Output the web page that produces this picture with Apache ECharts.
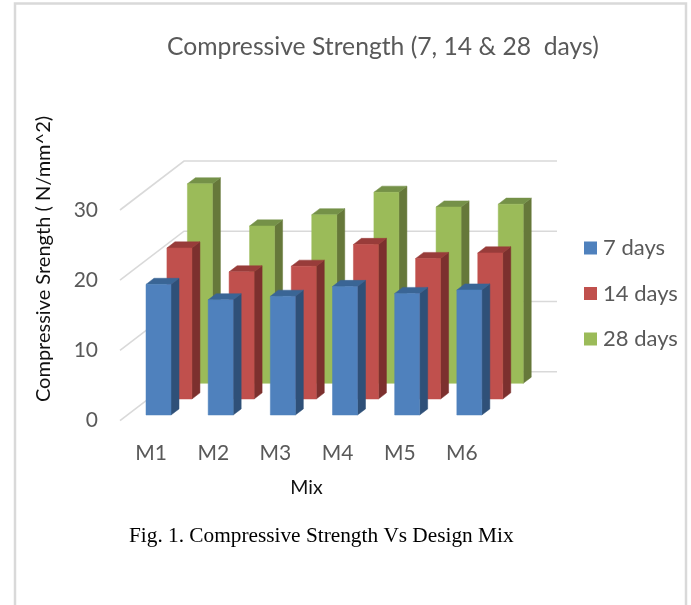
<!DOCTYPE html>
<html>
<head>
<meta charset="utf-8">
<style>html,body{margin:0;padding:0;background:#fff}#chart{width:691px;height:605px}</style>
<script src="https://cdn.jsdelivr.net/npm/echarts@6/dist/echarts.min.js"></script>
</head>
<body>
<div id="chart"></div>
<script>
const mixes = ['M1', 'M2', 'M3', 'M4', 'M5', 'M6'];
const days7 = [18.6, 16.4, 16.9, 18.3, 17.3, 17.8];
const days14 = [21.5, 18.1, 18.9, 22.0, 20.0, 20.8];
const days28 = [28.4, 22.4, 24.0, 27.2, 25.1, 25.5];
const yTicks = [0, 10, 20, 30];

// fake 3d: how far the back wall sits from the front plane, in pixels
const DEPTH_X = 64;
const DEPTH_Y = -49;
const BAR_W = 25;
const BAR_DEPTH = 0.125;

const textColor = '#595959';
const fontName = 'Lato';

function poly(points, fill) {
  return { type: 'polygon', shape: { points: points }, style: { fill: fill, stroke: fill, lineWidth: 0.5 } };
}

function barRenderer(depth, front, top, side) {
  return function (params, api) {
    const base = api.coord([api.value(0), 0]);
    const head = api.coord([api.value(0), api.value(1)]);
    const x0 = base[0] + DEPTH_X * depth - BAR_W / 2;
    const x1 = x0 + BAR_W;
    const y0 = base[1] + DEPTH_Y * depth;
    const y1 = head[1] + DEPTH_Y * depth;
    const dx = DEPTH_X * BAR_DEPTH;
    const dy = DEPTH_Y * BAR_DEPTH;
    return {
      type: 'group',
      children: [
        poly([[x1, y1], [x1 + dx, y1 + dy], [x1 + dx, y0 + dy], [x1, y0]], side),
        poly([[x0, y1], [x0 + dx, y1 + dy], [x1 + dx, y1 + dy], [x1, y1]], top),
        poly([[x0, y1], [x1, y1], [x1, y0], [x0, y0]], front)
      ]
    };
  };
}

function wallRenderer(params, api) {
  const c = params.coordSys;
  const y = api.coord([0, api.value(1)])[1];
  return {
    type: 'polyline',
    shape: { points: [[c.x, y], [c.x + DEPTH_X, y + DEPTH_Y], [c.x + c.width + DEPTH_X, y + DEPTH_Y]] },
    style: { fill: 'none', stroke: '#d9d9d9', lineWidth: 1.6 }
  };
}

function barSeries(name, values, depth, z, colors) {
  return {
    name: name,
    type: 'custom',
    z: z,
    itemStyle: { color: colors[0] },
    encode: { x: 0, y: 1 },
    data: values.map((v, i) => [i, v]),
    renderItem: barRenderer(depth, colors[0], colors[1], colors[2])
  };
}

const chart = echarts.init(document.getElementById('chart'));
chart.setOption({
  animation: false,
  backgroundColor: '#fff',
  title: [
    {
      text: 'Compressive Strength (7, 14 & 28  days)',
      left: 162, top: 30,
      textStyle: { fontFamily: fontName, fontSize: 24.7, fontWeight: 'normal', color: textColor }
    },
    {
      text: 'Fig. 1. Compressive Strength Vs Design Mix',
      left: 124, top: 521,
      textStyle: { fontFamily: 'Liberation Serif', fontSize: 21.3, fontWeight: 'normal', color: '#000' }
    }
  ],
  legend: {
    orient: 'vertical',
    left: 579, top: 232,
    icon: 'rect',
    itemWidth: 13, itemHeight: 13, itemGap: 23.5,
    data: ['7 days', '14 days', '28 days'],
    textStyle: { fontFamily: fontName, fontSize: 22, color: textColor, padding: [0, 0, 0, 1] }
  },
  grid: { left: 120, top: 210, width: 373, height: 210.7, outerBoundsMode: 'none' },
  xAxis: {
    type: 'category',
    data: mixes,
    name: 'Mix',
    nameLocation: 'middle',
    nameGap: 57,
    nameTextStyle: { fontFamily: fontName, fontSize: 19.5, color: '#111' },
    axisLine: { show: false },
    axisTick: { show: false },
    axisLabel: { margin: 22, fontFamily: fontName, fontSize: 21, color: textColor }
  },
  yAxis: {
    type: 'value',
    min: 0, max: 30, interval: 10,
    axisLine: { show: false },
    axisTick: { show: false },
    splitLine: { show: false },
    axisLabel: { margin: 22, fontFamily: fontName, fontSize: 21, color: textColor }
  },
  graphic: [
    {
      type: 'rect', z: 0, silent: true,
      shape: { x: 15, y: 3.5, width: 671, height: 640 },
      style: { fill: 'none', stroke: '#d9d9d9', lineWidth: 2.5 }
    },
    {
      type: 'text', x: 44, y: 259, rotation: Math.PI / 2, silent: true,
      style: {
        text: 'Compressive Srength ( N/mm^2)',
        font: '20px ' + fontName, fill: '#111',
        align: 'center', verticalAlign: 'middle'
      }
    }
  ],
  series: [
    {
      type: 'custom', z: 1, silent: true, legendHoverLink: false,
      encode: { x: 0, y: 1 },
      data: yTicks.map(v => [0, v]),
      renderItem: wallRenderer
    },
    barSeries('7 days', days7, 0.116, 4, ['#4f81bd', '#3a6595', '#2f5078']),
    barSeries('14 days', days14, 0.443, 3, ['#c0504d', '#983c3a', '#7c302e']),
    barSeries('28 days', days28, 0.763, 2, ['#9bbb59', '#759148', '#66783a'])
  ]
});
</script>
</body>
</html>
